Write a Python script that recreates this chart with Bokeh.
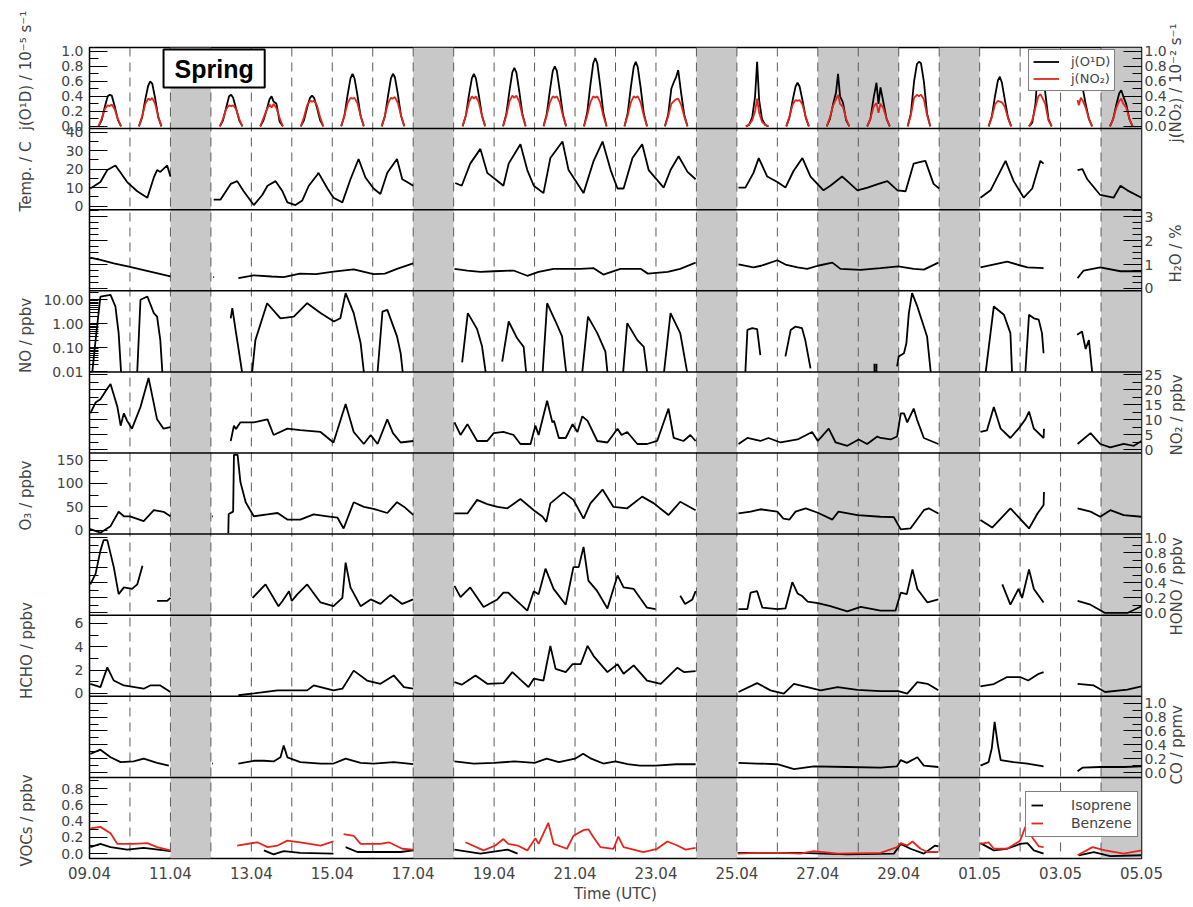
import math
from bokeh.plotting import figure
from bokeh.models import (Range1d, LinearAxis, LogScale, FixedTicker, BoxAnnotation, Span, Label,
                          Legend, LegendItem)
from bokeh.embed import file_html
from bokeh.resources import INLINE

NAN = float("nan")
FONT = "DejaVu Sans"

# ------------------------------------------------------------------ data
# time axis: days after 09.04 00:00 UTC
X_LABELS = ["09.04", "11.04", "13.04", "15.04", "17.04", "19.04", "21.04",
            "23.04", "25.04", "27.04", "29.04", "01.05", "03.05", "05.05"]
GAP_DAYS = [(2, 3), (8, 9), (15, 16), (18, 20), (21, 22), (25, 26)]

# photolysis frequencies: one row of readings per day, at the hours below
J_DAYS = [0, 1, 3, 4, 5, 6, 7, 9, 10, 11, 12, 13, 14, 16, 17, 18, 19, 20, 22, 23, 25]
J_HOURS = [5.3, 7.2, 9.1, 10.8, 12.0, 13.2, 14.9, 16.8, 18.7]
JO1D = [
    [0, .08, .26, .40, .42, .41, .27, .09, 0],
    [0, .12, .36, .54, .60, .57, .38, .12, 0],
    [0, .08, .25, .40, .42, .38, .24, .08, 0],
    [0, .08, .22, .36, .40, .33, .30, .06, 0],
    [0, .08, .25, .38, .41, .38, .25, .08, 0],
    [0, .14, .42, .64, .70, .64, .42, .14, 0],
    [0, .13, .41, .64, .70, .65, .43, .14, 0],
    [0, .14, .42, .64, .70, .64, .42, .14, 0],
    [0, .16, .47, .72, .78, .72, .47, .16, 0],
    [0, .16, .48, .74, .80, .74, .48, .16, 0],
    [0, .18, .55, .84, .91, .84, .55, .18, 0],
    [0, .17, .52, .79, .86, .79, .52, .17, 0],
    [0, .15, .50, .60, .66, .75, .45, .15, 0],
    [0, .02, .12, .40, .86, .35, .10, .02, 0],
    [0, .12, .35, .53, .58, .53, .35, .12, 0],
    [0, .10, .30, .45, .70, .40, .32, .08, 0],
    [0, .10, .38, .58, .30, .52, .32, .10, 0],
    [0, .17, .60, .83, .86, .84, .60, .17, 0],
    [0, .13, .40, .61, .66, .58, .36, .12, 0],
    [0, .05, .30, .85, .96, .85, .45, .10, 0],
    [0, .10, .29, .44, .48, .40, .30, .10, 0],
]
JNO2 = [
    [0, .10, .23, .28, .27, .29, .23, .10, 0],
    [0, .13, .30, .37, .35, .38, .30, .13, 0],
    [0, .10, .23, .28, .27, .28, .23, .10, 0],
    [0, .11, .22, .29, .25, .30, .24, .11, 0],
    [0, .12, .28, .34, .33, .34, .28, .12, 0],
    [0, .14, .31, .38, .37, .38, .31, .14, 0],
    [0, .14, .31, .38, .37, .39, .31, .14, 0],
    [0, .14, .32, .40, .37, .40, .32, .14, 0],
    [0, .14, .33, .41, .38, .41, .33, .14, 0],
    [0, .14, .32, .40, .38, .40, .32, .14, 0],
    [0, .14, .32, .40, .38, .40, .32, .14, 0],
    [0, .14, .32, .40, .38, .40, .32, .14, 0],
    [0, .13, .30, .34, .36, .37, .29, .13, 0],
    [0, .02, .08, .20, .37, .18, .06, .02, 0],
    [0, .13, .29, .35, .34, .35, .29, .13, 0],
    [0, .12, .28, .36, .42, .30, .26, .10, 0],
    [0, .10, .26, .31, .18, .30, .24, .10, 0],
    [0, .15, .38, .42, .40, .42, .36, .15, 0],
    [0, .12, .29, .34, .33, .32, .26, .11, 0],
    [0, .08, .25, .40, .43, .38, .30, .08, 0],
    [0, .10, .25, .34, .37, .30, .25, .10, 0],
]
JO1D_PART = [(24.42, .70), (24.45, .76), (24.50, .62), (24.55, .50), (24.62, .30), (24.70, .10), (24.78, 0)]
JNO2_PART = [(24.42, .35), (24.45, .28), (24.50, .38), (24.55, .34), (24.62, .25), (24.70, .10), (24.78, 0)]

TEMP = [(0.02, 9.5), (0.27, 13), (0.44, 19.5), (0.64, 22), (0.77, 18), (0.93, 13), (1.18, 8), (1.43, 4.5),
        (1.59, 15.5), (1.67, 19.5), (1.75, 18.5), (1.92, 22), (2.0, 16), None,
        (3.07, 3.5), (3.24, 3.5), (3.49, 12), (3.65, 13.5), (3.81, 8), (4.06, 0.5), (4.27, 6), (4.4, 11),
        (4.6, 13.5), (4.77, 8), (4.89, 2), (5.09, 0.5), (5.26, 3), (5.42, 11), (5.63, 17), (5.66, 18),
        (5.88, 9.5), (6.03, 4.5), (6.25, 2), (6.45, 14.5), (6.65, 25.5), (6.82, 15.5), (7.02, 9.5),
        (7.19, 6.5), (7.36, 18), (7.6, 25.5), (7.73, 14.5), (7.85, 13), (8.0, 11), None,
        (9.04, 12.5), (9.2, 11), (9.41, 23), (9.66, 31), (9.83, 18), (10.03, 14.5), (10.23, 11), (10.36, 23),
        (10.65, 33.5), (10.82, 19.5), (10.98, 11), (11.22, 7), (11.39, 26), (11.69, 35), (11.84, 19.5),
        (12.21, 7), (12.46, 24.5), (12.68, 35), (12.88, 19.5), (13.05, 9.5), (13.2, 9.5), (13.42, 26),
        (13.66, 33.5), (13.82, 19.5), (14.19, 10), (14.36, 19.5), (14.56, 27), (14.78, 18.5), (14.98, 14.5), None,
        (16.04, 10), (16.21, 10), (16.41, 18), (16.54, 26), (16.75, 16), (17.0, 13), (17.2, 10), (17.4, 19),
        (17.62, 26), (17.82, 16), (18.14, 8.5), (18.31, 11), (18.6, 16), (18.73, 13.5), (18.98, 8.5),
        (19.23, 10), (19.5, 12), (19.72, 13.5), (19.97, 8.5), (20.17, 8), (20.37, 23), (20.54, 24),
        (20.66, 24.5), (20.86, 12), (21.0, 9.5), None,
        (22.02, 4.5), (22.27, 8.5), (22.64, 24.5), (22.84, 13.5), (23.09, 4.5), (23.3, 9.5), (23.5, 24.5),
        (23.58, 23), None,
        (24.42, 19.5), (24.54, 20), (24.66, 14.5), (24.98, 6), (25.31, 4.5), (25.48, 11), (25.65, 8.5), (26.0, 4.5)]

H2O = [(0.02, 1.29), (0.27, 1.2), (0.6, 1.05), (1.0, 0.9), (1.5, 0.7), (2.0, 0.5), None,
       (3.06, 0.47), (3.08, 0.47), None,
       (3.68, 0.43), (4.06, 0.55), (4.5, 0.5), (4.8, 0.47), (5.2, 0.62), (5.6, 0.6), (6.03, 0.7), (6.53, 0.8),
       (7.02, 0.6), (7.3, 0.62), (7.6, 0.82), (8.0, 1.05), None,
       (9.02, 0.82), (9.34, 0.75), (9.66, 0.69), (10.0, 0.72), (10.48, 0.75), (10.82, 0.53), (11.1, 0.69),
       (11.47, 0.82), (12.14, 0.82), (12.46, 0.85), (12.7, 0.58), (13.12, 0.82), (13.62, 0.82), (13.8, 0.62),
       (14.29, 0.69), (14.6, 0.82), (14.98, 1.08), None,
       (16.04, 1.01), (16.41, 0.88), (16.6, 0.95), (17.0, 1.18), (17.2, 1.0), (17.5, 0.88), (17.74, 0.82),
       (18.0, 0.95), (18.36, 1.08), (18.56, 0.82), (19.06, 0.78), (19.55, 0.85), (19.99, 0.92), (20.37, 0.82),
       (20.62, 0.79), (20.98, 1.08), None,
       (22.02, 0.88), (22.68, 1.12), (23.18, 0.88), (23.58, 0.85), None,
       (24.42, 0.43), (24.57, 0.75), (24.98, 0.88), (25.48, 0.72), (26.0, 0.72)]

NO = [(0.07, 0.01), (0.15, 0.21), (0.27, 13.7), (0.52, 16), (0.64, 5.3), (0.72, 0.41), (0.78, 0.01), None,
      (1.18, 0.01), (1.26, 10), (1.43, 13.7), (1.59, 2.8), (1.67, 2.0), (1.75, 0.21), (1.8, 0.01), None,
      (3.49, 1.7), (3.53, 4.5), (3.61, 0.56), (3.65, 0.21), (3.77, 0.01), None,
      (4.02, 0.01), (4.1, 0.21), (4.39, 7.2), (4.72, 1.7), (5.05, 2.0), (5.38, 7.2), (5.71, 2.8), (6.04, 1.25),
      (6.2, 1.7), (6.33, 19), (6.53, 2.8), (6.7, 0.16), (6.78, 0.01), None,
      (7.12, 0.01), (7.24, 3.2), (7.36, 3.8), (7.6, 0.3), (7.69, 0.06), (7.74, 0.01), None,
      (9.21, 0.025), (9.35, 2.8), (9.58, 0.6), (9.7, 0.12), (9.79, 0.01), None,
      (10.2, 0.027), (10.36, 1.25), (10.57, 0.25), (10.73, 0.11), (10.79, 0.01), None,
      (11.2, 0.01), (11.31, 7.2), (11.52, 1.25), (11.68, 0.3), (11.78, 0.01), None,
      (12.18, 0.01), (12.32, 2.0), (12.55, 0.41), (12.75, 0.07), (12.8, 0.01), None,
      (13.19, 0.01), (13.29, 1.07), (13.54, 0.21), (13.7, 0.11), (13.78, 0.01), None,
      (14.2, 0.01), (14.36, 2.8), (14.6, 0.41), (14.77, 0.01), None,
      (16.21, 0.01), (16.26, 0.56), (16.38, 0.66), (16.5, 0.6), (16.58, 0.05), None,
      (17.2, 0.044), (17.33, 0.56), (17.45, 0.77), (17.61, 0.66), (17.69, 0.21), (17.82, 0.014), None,
      (19.4, 0.01), (19.4, 0.022), None, (19.45, 0.01), (19.45, 0.022), None,
      (19.96, 0.017), (20.0, 0.044), (20.13, 0.06), (20.19, 0.16), (20.25, 2.8), (20.33, 19), (20.46, 5.3),
      (20.7, 0.3), (20.79, 0.01), None,
      (22.15, 0.01), (22.35, 5.3), (22.6, 2.4), (22.76, 0.41), (22.8, 0.01), None,
      (23.13, 0.01), (23.22, 2.4), (23.34, 1.7), (23.46, 1.5), (23.54, 0.41), (23.58, 0.06), None,
      (24.41, 0.35), (24.53, 0.48), (24.62, 0.09), (24.7, 0.21), (24.78, 0.01)]

NO2 = [(0.02, 12.2), (0.15, 15.8), (0.27, 16.9), (0.44, 20.5), (0.52, 22), (0.69, 14.3), (0.77, 8.1),
       (0.85, 12.2), (0.93, 9.7), (1.05, 7.1), (1.26, 14.3), (1.46, 24), (1.67, 10.2), (1.83, 7.1), (2.0, 7.6), None,
       (3.49, 3), (3.57, 8.1), (3.62, 7), (3.73, 9.2), (4.06, 9.2), (4.23, 9.7), (4.4, 10.2), (4.55, 5),
       (4.89, 7.1), (5.21, 6.6), (5.71, 6), (6.03, 2.5), (6.33, 15.3), (6.53, 6), (6.78, 2), (6.95, 5),
       (7.12, 2), (7.36, 10.2), (7.5, 5.6), (7.69, 2.5), (8.0, 3), None,
       (9.02, 9.2), (9.17, 5), (9.34, 8.6), (9.58, 3), (9.83, 3), (9.99, 5.6), (10.23, 6), (10.48, 5),
       (10.65, 2), (10.9, 2), (11.02, 8.1), (11.1, 5), (11.31, 16.4), (11.44, 9.2), (11.48, 9.7), (11.6, 4),
       (11.77, 4), (11.94, 8.6), (12.06, 6), (12.18, 11.2), (12.31, 9.7), (12.55, 3), (12.8, 2.5),
       (13.05, 7.1), (13.15, 5), (13.29, 6), (13.54, 2), (13.78, 2), (14.03, 3), (14.31, 13.8), (14.44, 4),
       (14.68, 3), (14.85, 5), (14.98, 3), None,
       (16.04, 2), (16.26, 4), (16.58, 3), (16.78, 4), (17.08, 2.5), (17.5, 3.5), (17.86, 6), (18.0, 3),
       (18.27, 7.1), (18.44, 2.5), (18.73, 1.4), (19.01, 3.5), (19.22, 2), (19.47, 4.5), (19.55, 4),
       (19.8, 3.5), (19.96, 4.5), (20.05, 12.2), (20.13, 12.2), (20.21, 9.2), (20.37, 13.8), (20.45, 10.2),
       (20.62, 4), (20.98, 2), None,
       (22.02, 6), (22.18, 6.5), (22.35, 14.3), (22.52, 7.1), (22.76, 4), (22.96, 7.1), (23.13, 10.2),
       (23.22, 12.8), (23.34, 7.1), (23.58, 4), (23.59, 7.1), None,
       (24.42, 2), (24.74, 5.6), (24.98, 2), (25.23, 0.9), (25.56, 2), (25.81, 1.4), (26.0, 3)]

O3 = [(0.0, 3), (0.27, -5), (0.52, 9), (0.72, 39.6), (0.85, 30), (1.0, 30), (1.34, 19.5), (1.59, 43),
      (1.83, 39.6), (2.0, 30.3), None, (3.03, 30), (3.05, 30), None,
      (3.43, -6), (3.44, 35), (3.55, 40), (3.57, 161), (3.66, 161), (3.73, 103), (3.86, 60), (4.06, 30),
      (4.4, 34), (4.65, 37), (4.89, 23), (5.21, 23), (5.54, 34), (5.88, 30), (6.13, 27), (6.28, 4),
      (6.53, 60), (6.78, 50), (7.02, 46), (7.36, 37), (7.6, 60), (7.78, 50), (8.0, 33), None,
      (9.02, 36), (9.34, 36), (9.58, 65), (9.83, 56), (10.08, 50), (10.33, 47), (10.65, 67), (10.98, 43),
      (11.2, 29), (11.29, 18), (11.39, 57.5), (11.72, 81), (11.96, 65), (12.21, 25), (12.38, 57.5),
      (12.68, 87), (12.95, 50), (13.29, 47), (13.66, 72), (13.95, 57.5), (14.31, 32.6), (14.6, 61), (14.98, 43), None,
      (16.04, 36), (16.34, 40), (16.58, 45), (17.0, 40), (17.15, 25), (17.3, 23), (17.45, 40), (17.7, 47),
      (18.0, 37.5), (18.36, 23), (18.51, 40), (18.98, 32.6), (19.55, 29), (19.88, 28), (20.05, 2),
      (20.29, 4), (20.62, 43), (20.74, 47), (20.98, 36), None,
      (22.02, 22), (22.31, 6), (22.76, 47), (23.22, 4), (23.43, 36), (23.58, 54), (23.59, 82), None,
      (24.42, 47), (24.74, 40), (24.98, 29), (25.23, 43), (25.56, 32.6), (26.0, 29)]

HONO = [(0.02, 0.38), (0.15, 0.52), (0.27, 0.83), (0.35, 0.97), (0.44, 0.97), (0.6, 0.61), (0.72, 0.25),
        (0.85, 0.34), (1.05, 0.32), (1.18, 0.38), (1.31, 0.63), None,
        (1.67, 0.16), (1.92, 0.16), (2.0, 0.2), None,
        (4.03, 0.2), (4.35, 0.38), (4.67, 0.09), (4.77, 0.16), (4.93, 0.29), (5.0, 0.16), (5.14, 0.25),
        (5.38, 0.38), (5.71, 0.14), (6.03, 0.09), (6.25, 0.2), (6.33, 0.67), (6.45, 0.34), (6.7, 0.09),
        (6.95, 0.18), (7.19, 0.12), (7.44, 0.24), (7.73, 0.12), (8.0, 0.18), None,
        (9.02, 0.36), (9.17, 0.21), (9.41, 0.34), (9.74, 0.08), (10.08, 0.18), (10.23, 0.27), (10.35, 0.27),
        (10.48, 0.2), (10.82, 0.03), (10.98, 0.29), (11.1, 0.25), (11.27, 0.59), (11.47, 0.32), (11.77, 0.11),
        (11.96, 0.61), (12.09, 0.61), (12.21, 0.88), (12.33, 0.43), (12.55, 0.29), (12.8, 0.06), (13.05, 0.5),
        (13.2, 0.34), (13.45, 0.32), (13.78, 0.07), (13.99, 0.05), None,
        (14.6, 0.23), (14.72, 0.12), (14.9, 0.18), (14.98, 0.29), None,
        (16.04, 0.05), (16.26, 0.05), (16.34, 0.27), (16.5, 0.29), (16.63, 0.07), (17.0, 0.05), (17.2, 0.06),
        (17.37, 0.41), (17.5, 0.26), (17.6, 0.23), (17.75, 0.15), (18.0, 0.13), (18.31, 0.09), (18.73, 0.02),
        (19.06, 0.08), (19.55, 0.03), (19.92, 0.03), (20.05, 0.27), (20.2, 0.25), (20.34, 0.58), (20.46, 0.32),
        (20.71, 0.14), (20.98, 0.18), None,
        (22.56, 0.38), (22.76, 0.11), (22.96, 0.32), (23.05, 0.2), (23.22, 0.58), (23.34, 0.32), (23.58, 0.14), None,
        (24.42, 0.16), (24.74, 0.11), (25.1, 0.0), (25.65, 0.0), (26.0, 0.09)]

HCHO = [(0.02, 0.82), (0.27, 0.54), (0.44, 2.23), (0.6, 1.1), (0.85, 0.68), (1.34, 0.4), (1.5, 0.68),
        (1.75, 0.68), (2.0, 0.12), None, (2.98, 0.12), (3.0, 0.12), None,
        (3.68, -0.16), (4.06, 0.0), (4.65, 0.26), (4.97, 0.26), (5.38, 0.26), (5.54, 0.68), (6.03, 0.26),
        (6.25, 0.4), (6.53, 1.95), (6.86, 1.1), (7.19, 0.82), (7.52, 1.54), (7.77, 0.54), (8.0, 0.4), None,
        (9.02, 0.96), (9.2, 0.75), (9.54, 1.54), (9.83, 0.82), (10.23, 0.88), (10.45, 1.82), (10.55, 1.5),
        (10.85, 0.54), (10.98, 1.26), (11.22, 1.1), (11.39, 4.07), (11.52, 2.1), (11.77, 1.82), (11.94, 2.5),
        (12.14, 2.5), (12.31, 4.07), (12.46, 3.2), (12.8, 1.82), (13.05, 2.5), (13.2, 1.68), (13.45, 2.4),
        (13.78, 1.1), (14.12, 0.82), (14.53, 2.2), (14.7, 1.82), (14.98, 1.9), None,
        (16.04, 0.12), (16.5, 0.88), (16.83, 0.26), (17.16, -0.02), (17.41, 0.82), (17.74, 0.54),
        (18.07, 0.26), (18.49, 0.54), (18.98, 0.3), (19.55, 0.2), (19.99, 0.2), (20.21, -0.02), (20.46, 0.96),
        (20.71, 0.82), (20.98, 0.26), None,
        (22.02, 0.6), (22.35, 0.8), (22.68, 1.4), (23.0, 1.4), (23.2, 1.1), (23.46, 1.68), (23.58, 1.82), None,
        (24.42, 0.82), (24.82, 0.68), (25.1, 0.12), (25.65, 0.32), (26.0, 0.6)]

CO = [(0.02, 0.27), (0.27, 0.33), (0.52, 0.22), (0.77, 0.15), (1.09, 0.16), (1.34, 0.2), (1.67, 0.14),
      (1.96, 0.1), None, (3.03, 0.13), (3.05, 0.13), None,
      (3.68, 0.13), (4.06, 0.17), (4.31, 0.17), (4.55, 0.16), (4.72, 0.22), (4.8, 0.39), (4.89, 0.22),
      (5.21, 0.15), (5.71, 0.13), (6.03, 0.13), (6.33, 0.2), (6.7, 0.14), (7.02, 0.13), (7.52, 0.15), (8.0, 0.12), None,
      (9.02, 0.16), (9.5, 0.13), (10.0, 0.14), (10.5, 0.16), (11.0, 0.14), (11.3, 0.2), (11.6, 0.15),
      (12.0, 0.2), (12.2, 0.27), (12.4, 0.2), (12.7, 0.13), (13.0, 0.16), (13.3, 0.12), (13.6, 0.1),
      (14.0, 0.1), (14.5, 0.12), (14.98, 0.12), None,
      (16.04, 0.14), (16.5, 0.13), (17.0, 0.12), (17.41, 0.05), (17.9, 0.09), (18.73, 0.08), (19.55, 0.07),
      (19.96, 0.09), (20.05, 0.18), (20.2, 0.14), (20.46, 0.22), (20.62, 0.1), (20.98, 0.08), None,
      (22.02, 0.1), (22.22, 0.15), (22.3, 0.35), (22.37, 0.73), (22.45, 0.4), (22.52, 0.18), (22.84, 0.15),
      (23.18, 0.13), (23.58, 0.09), None,
      (24.42, 0.02), (24.54, 0.07), (24.98, 0.08), (25.56, 0.08), (26.0, 0.09)]

BENZENE = [(0.02, 0.31), (0.27, 0.33), (0.52, 0.25), (0.69, 0.12), (1.09, 0.12), (1.43, 0.13), (1.67, 0.08),
           (2.0, 0.04), None,
           (3.65, 0.1), (4.15, 0.14), (4.4, 0.08), (4.65, 0.1), (4.89, 0.16), (5.21, 0.14), (5.71, 0.1),
           (6.03, 0.15), None,
           (6.28, 0.24), (6.53, 0.22), (6.7, 0.12), (7.19, 0.12), (7.4, 0.14), (7.73, 0.06), (8.0, 0.05), None,
           (9.29, 0.14), (9.74, 0.04), (10.03, 0.1), (10.23, 0.18), (10.35, 0.12), (10.58, 0.1), (10.82, 0.04),
           (11.02, 0.19), (11.1, 0.12), (11.34, 0.38), (11.47, 0.12), (11.8, 0.06), (11.96, 0.22), (12.21, 0.29),
           (12.33, 0.3), (12.46, 0.2), (12.63, 0.08), (12.95, 0.06), (13.07, 0.21), (13.2, 0.08), (13.69, 0.02),
           (14.03, 0.06), (14.28, 0.15), (14.53, 0.1), (14.73, 0.05), (14.98, 0.07), None,
           (16.02, 0.0), (16.5, 0.01), (17.08, 0.01), (17.57, 0.0), (17.9, 0.03), (18.5, 0.0), (19.55, 0.01),
           (19.96, 0.08), (20.05, 0.13), (20.21, 0.1), (20.34, 0.15), (20.54, 0.06), (20.71, 0.02), (20.98, 0.02), None,
           (22.02, 0.12), (22.22, 0.14), (22.35, 0.06), (22.68, 0.06), (23.0, 0.16), (23.13, 0.33), (23.22, 0.31),
           (23.3, 0.2), (23.46, 0.09), (23.58, 0.08), None,
           (24.42, -0.02), (24.79, 0.08), (25.1, 0.04), (25.56, 0.0), (26.0, 0.04)]

ISOPRENE = [(0.02, 0.08), (0.27, 0.12), (0.52, 0.08), (0.93, 0.05), (1.34, 0.07), (2.0, 0.03), None,
            (4.31, 0.04), (4.55, -0.01), (4.8, 0.03), (5.21, 0.01), (6.03, 0.0), None,
            (6.33, 0.08), (6.62, 0.02), (7.19, 0.02), (7.69, 0.02), (8.0, 0.04), None,
            (9.02, 0.05), (9.66, 0.0), (10.33, 0.05), (10.58, 0.0), None,
            (16.02, 0.01), (17.08, 0.01), (17.57, 0.01), (18.73, -0.01), (19.88, 0.0), (20.05, 0.12),
            (20.29, 0.06), (20.62, 0.0), (20.9, 0.1), (20.98, 0.09), None,
            (22.02, 0.13), (22.35, 0.04), (22.68, 0.06), (23.0, 0.12), (23.18, 0.13), (23.34, 0.04), (23.58, 0.0), None,
            (24.45, -0.02), (24.82, 0.02), (25.23, -0.03), (26.0, -0.02)]

# tick labels of each panel
J_TICKS = [0.0, 0.2, 0.4, 0.6, 0.8, 1.0]
TEMP_TICKS = [0, 10, 20, 30, 40]
H2O_TICKS = [0, 1, 2, 3]
NO_TICKS = [0.01, 0.1, 1, 10]
NO2_TICKS = [0, 5, 10, 15, 20, 25]
O3_TICKS = [0, 50, 100, 150]
HONO_TICKS = [0.0, 0.2, 0.4, 0.6, 0.8, 1.0]
HCHO_TICKS = [0, 2, 4, 6]
CO_TICKS = [0.0, 0.2, 0.4, 0.6, 0.8, 1.0]
VOC_TICKS = [0.0, 0.2, 0.4, 0.6, 0.8]

TITLES = ["j(O\u00b9D) / 10\u207b\u2075 s\u207b\u00b9", "Temp. / C", "H\u2082O / %", "NO / ppbv",
          "NO\u2082 / ppbv", "O\u2083 / ppbv", "HONO / ppbv", "HCHO / ppbv", "CO / ppmv", "VOCs / ppbv"]
J2_TITLE = "j(NO\u2082) / 10\u207b\u00b2 s\u207b\u00b9"

# ------------------------------------------------------------------ layout
NP = 10
DAYS = 26
RED = "#e3261d"
FW, FH = 1052, 811
TOP_B = 47
PX = FH / NP

# (lo, hi, log, ticks, minor step, format, labelled side)
SPECS = [
    (-0.03, 1.05, False, J_TICKS, 0.1, "%.1f", "left"),
    (-2.0, 42.0, False, TEMP_TICKS, 5, "%d", "left"),
    (-0.1, 3.3, False, H2O_TICKS, 0.25, "%d", "right"),
    (0.01, 23.7, True, NO_TICKS, None, "%.2f", "left"),
    (-1.0, 26.0, False, NO2_TICKS, 2.5, "%d", "right"),
    (-8.0, 165.0, False, O3_TICKS, 25, "%d", "left"),
    (-0.03, 1.05, False, HONO_TICKS, 0.1, "%.1f", "right"),
    (-0.25, 6.7, False, HCHO_TICKS, 1, "%d", "left"),
    (-0.07, 1.1, False, CO_TICKS, 0.1, "%.1f", "right"),
    (-0.06, 0.94, False, VOC_TICKS, 0.1, "%.1f", "left"),
]
# axis-title anchor rows in page pixels: centre for left titles, lower end for right titles
TITLE_ROW = [70, 176, 282, 335, 455, 495, 635, 650, 784, 820]
J2_ROW = 142


def to_unit(i, v):
    lo, hi, lg = SPECS[i][0], SPECS[i][1], SPECS[i][2]
    if lg:
        f = (math.log10(v) - math.log10(lo)) / (math.log10(hi) - math.log10(lo))
    else:
        f = (v - lo) / (hi - lo)
    return round((NP - 1 - i) + f, 6)


def row_to_unit(y):
    return round(NP - (y - TOP_B) / PX, 6)


def minor_list(i):
    lo, hi, lg, _t, step = SPECS[i][:5]
    if lg:
        return [m * 10 ** e for e in (-2, -1, 0, 1) for m in range(2, 10) if m * 10 ** e <= hi]
    k0, k1 = math.ceil(lo / step - 1e-9), math.floor(hi / step + 1e-9)
    return [round(k * step, 4) for k in range(k0, k1 + 1)]


p = figure(frame_width=FW, frame_height=FH, x_range=Range1d(0, DAYS), y_range=Range1d(0, NP),
           min_border_left=89, min_border_right=51, min_border_top=TOP_B, min_border_bottom=48,
           output_backend="svg", toolbar_location=None, y_axis_location=None)
p.xgrid.visible = False
p.ygrid.visible = False
p.outline_line_color = "black"
p.outline_line_width = 1.5
p.background_fill_color = "white"
p.border_fill_color = "white"

ranges, scales = {}, {}
for i, (lo, hi, lg, *_r) in enumerate(SPECS):
    below = NP - 1 - i
    name = f"p{i}"
    if lg:
        a, b = math.log10(lo), math.log10(hi)
        s = b - a
        ranges[name] = Range1d(10 ** (a - below * s), 10 ** (b + i * s))
        scales[name] = LogScale()
    else:
        s = hi - lo
        ranges[name] = Range1d(lo - below * s, hi + i * s)
p.extra_y_ranges = ranges
p.extra_y_scales = scales

# grey bands and daily dashed lines (under the data)
for a, b in GAP_DAYS:
    p.add_layout(BoxAnnotation(left=a, right=b, fill_color="#c8c8c8", fill_alpha=1.0,
                               line_color=None, level="underlay"))
for d in range(1, DAYS):
    p.add_layout(Span(location=d, dimension="height", line_color="#5a5a5a", line_width=1,
                      line_dash="9 6", level="underlay"))


def unzip(pairs):
    xs, ys = [], []
    for pr in pairs:
        if pr is None:
            xs.append(NAN)
            ys.append(NAN)
        else:
            xs.append(pr[0])
            ys.append(pr[1])
    return xs, ys


def j_series(rows, part):
    xs, ys = [], []
    for d, row in zip(J_DAYS, rows):
        xs += [d + h / 24.0 for h in J_HOURS] + [NAN]
        ys += list(row) + [NAN]
    px, py = unzip(part)
    return xs + px, ys + py


def line(i, xs, ys, color):
    return p.line(xs, ys, y_range_name=f"p{i}", line_color=color, line_width=1.8)


r_jo1d = line(0, *j_series(JO1D, JO1D_PART), "black")
r_jno2 = line(0, *j_series(JNO2, JNO2_PART), RED)
line(1, *unzip(TEMP), "black")
line(2, *unzip(H2O), "black")
line(3, *unzip(NO), "black")
line(4, *unzip(NO2), "black")
line(5, *unzip(O3), "black")
line(6, *unzip(HONO), "black")
line(7, *unzip(HCHO), "black")
line(8, *unzip(CO), "black")
r_iso = line(9, *unzip(ISOPRENE), "black")
r_benz = line(9, *unzip(BENZENE), RED)

# panel separators
for k in range(1, NP):
    p.add_layout(Span(location=k, dimension="width", line_color="black", line_width=1.5))


# ---- y axes: one tick axis per side carrying every panel's scale, one title axis per side
def side_ticks(side):
    major, minor, labels = [], [], {}
    for i, spec in enumerate(SPECS):
        lab_side = spec[6]
        has_ticks = side == "left" or lab_side == "right" or i == 0
        if not has_ticks:
            continue
        show = (lab_side == side) or (i == 0)
        for v in spec[3]:
            u = to_unit(i, v)
            major.append(u)
            labels[u] = (spec[5] % v) if show else " "
        minor += [to_unit(i, v) for v in minor_list(i)]
    return major, minor, labels


for side in ("left", "right"):
    major, minor, labels = side_ticks(side)
    ax = LinearAxis(ticker=FixedTicker(ticks=major, minor_ticks=minor), major_label_overrides=labels)
    ax.axis_line_color = None
    ax.major_tick_in = 18
    ax.major_tick_out = 0
    ax.minor_tick_in = 9
    ax.minor_tick_out = 0
    ax.major_tick_line_color = "black"
    ax.minor_tick_line_color = "black"
    ax.major_label_standoff = 6 if side == "left" else 3
    ax.major_label_text_font = FONT
    ax.major_label_text_font_size = "14px"
    p.add_layout(ax, side)

    tpos, tlab = [], {}
    for i, spec in enumerate(SPECS):
        if spec[6] == side:
            u = row_to_unit(TITLE_ROW[i])
            tpos.append(u)
            tlab[u] = TITLES[i]
    if side == "right":
        u = row_to_unit(J2_ROW)
        tpos.append(u)
        tlab[u] = J2_TITLE
    tax = LinearAxis(ticker=FixedTicker(ticks=tpos, minor_ticks=[]), major_label_overrides=tlab)
    tax.axis_line_color = None
    tax.major_tick_line_color = None
    tax.minor_tick_line_color = None
    tax.major_tick_in = 0
    tax.major_tick_out = 0
    tax.minor_tick_in = 0
    tax.minor_tick_out = 0
    # read bottom-to-top on both sides, as in the original figure
    tax.major_label_orientation = "vertical" if side == "left" else math.pi / 2
    tax.major_label_standoff = 5 if side == "left" else 7
    tax.major_label_text_font = FONT
    tax.major_label_text_font_size = "15px"
    p.add_layout(tax, side)

# season tag (inside the top panel)
p.add_layout(Label(x=1.83, y=row_to_unit(68), text="Spring", text_align="left", text_baseline="middle",
                   text_font="Liberation Sans", text_font_style="bold", text_font_size="25px",
                   text_color="black", background_fill_color="white", background_fill_alpha=1.0,
                   border_line_color="black", border_line_width=2, padding=(11, 5)))

# legends (inside the frame)
leg1 = Legend(items=[LegendItem(label="j(O\u00b9D)", renderers=[r_jo1d]),
                     LegendItem(label="j(NO\u2082)", renderers=[r_jno2])],
              location=(939, FH - 44), border_line_color="black", border_line_width=1.5,
              background_fill_color="white", background_fill_alpha=1.0,
              label_text_font=FONT, label_text_font_size="13px", glyph_width=26, glyph_height=15,
              label_height=15, label_standoff=12, spacing=2, padding=4, margin=0)
leg2 = Legend(items=[LegendItem(label="Isoprene", renderers=[r_iso]),
                     LegendItem(label="Benzene", renderers=[r_benz])],
              location=(936, 21), border_line_color="black", border_line_width=1.5,
              background_fill_color="white", background_fill_alpha=1.0,
              label_text_font=FONT, label_text_font_size="14px", glyph_width=12, glyph_height=14,
              label_height=16, label_standoff=28, spacing=2, padding=5, margin=0)
p.add_layout(leg1)
p.add_layout(leg2)

# time axis
xa = p.xaxis[0]
x_ticks = [2 * k for k in range(len(X_LABELS))]
xa.ticker = FixedTicker(ticks=x_ticks, minor_ticks=[])
xa.major_label_overrides = {t: lab for t, lab in zip(x_ticks, X_LABELS)}
xa.axis_line_color = None
xa.major_tick_line_color = None
xa.minor_tick_line_color = None
xa.major_tick_in = 0
xa.major_tick_out = 0
xa.minor_tick_in = 0
xa.minor_tick_out = 0
xa.major_label_standoff = 8
xa.major_label_text_font = FONT
xa.major_label_text_font_size = "15px"
xa.axis_label = "Time (UTC)"
xa.axis_label_standoff = 3
xa.axis_label_text_font = FONT
xa.axis_label_text_font_style = "normal"
xa.axis_label_text_font_size = "15px"

open("out.html", "w").write(file_html(p, INLINE))
